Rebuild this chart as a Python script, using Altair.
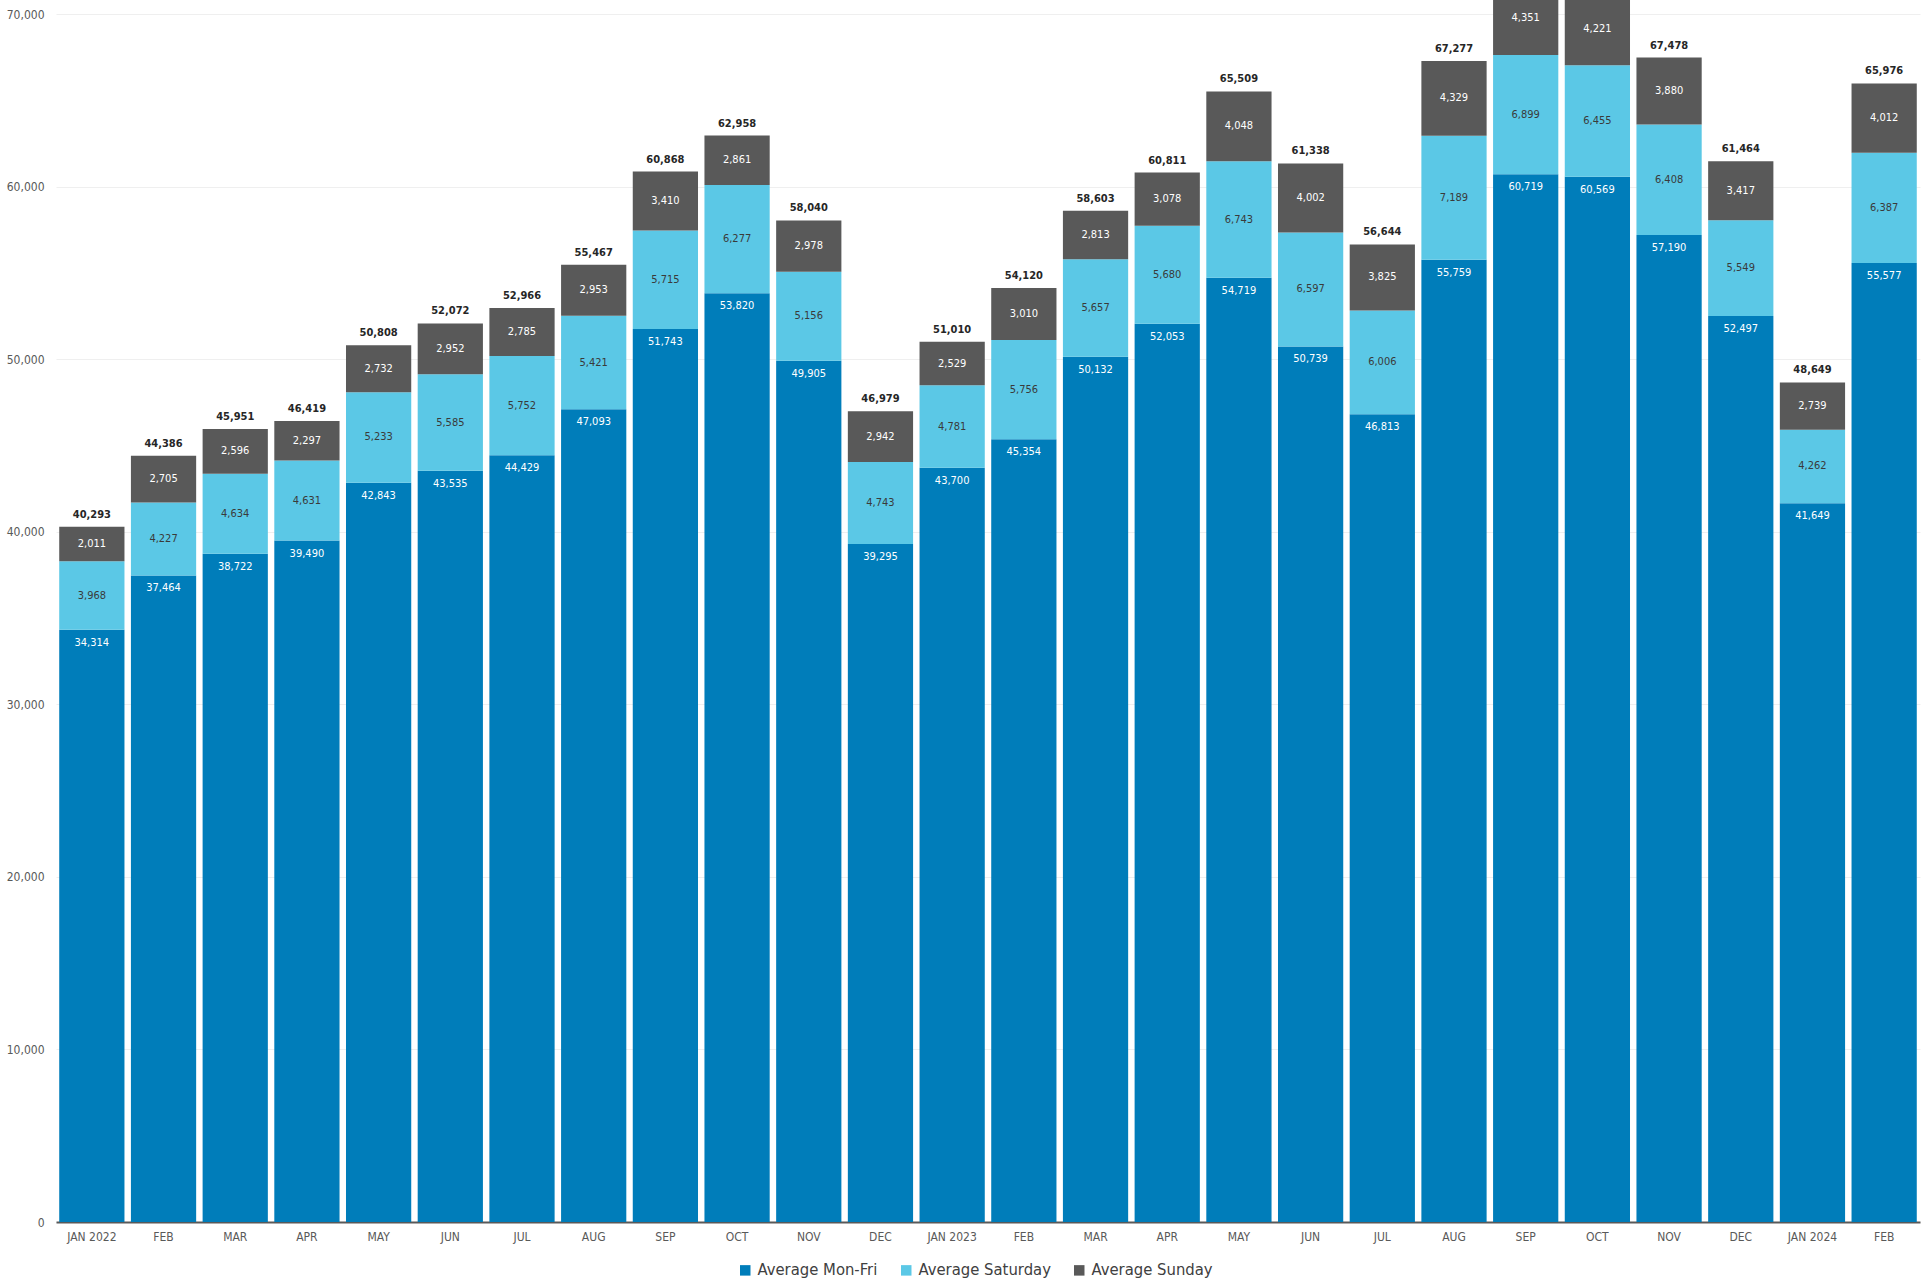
import altair as alt
import pandas as pd

months = ["JAN 2022", "FEB 2022", "MAR 2022", "APR 2022", "MAY 2022", "JUN 2022", "JUL 2022",
          "AUG 2022", "SEP 2022", "OCT 2022", "NOV 2022", "DEC 2022", "JAN 2023", "FEB 2023",
          "MAR 2023", "APR 2023", "MAY 2023", "JUN 2023", "JUL 2023", "AUG 2023", "SEP 2023",
          "OCT 2023", "NOV 2023", "DEC 2023", "JAN 2024", "FEB 2024"]
monfri = [34314, 37464, 38722, 39490, 42843, 43535, 44429, 47093, 51743, 53820, 49905, 39295, 43700,
          45354, 50132, 52053, 54719, 50739, 46813, 55759, 60719, 60569, 57190, 52497, 41649, 55577]
saturday = [3968, 4227, 4634, 4631, 5233, 5585, 5752, 5421, 5715, 6277, 5156, 4743, 4781,
            5756, 5657, 5680, 6743, 6597, 6006, 7189, 6899, 6455, 6408, 5549, 4262, 6387]
sunday = [2011, 2705, 2596, 2297, 2732, 2952, 2785, 2953, 3410, 2861, 2978, 2942, 2529,
          3010, 2813, 3078, 4048, 4002, 3825, 4329, 4351, 4221, 3880, 3417, 2739, 4012]
totals = [40293, 44386, 45951, 46419, 50808, 52072, 52966, 55467, 60868, 62958, 58040, 46979, 51010,
          54120, 58603, 60811, 65509, 61338, 56644, 67277, 71969, 71245, 67478, 61464, 48649, 65976]
series = ["Average Mon-Fri", "Average Saturday", "Average Sunday"]
colors = ["#007DBA", "#5BC8E6", "#595959"]

FONT = "Liberation Sans Narrow, Arial Narrow, DejaVu Sans Condensed, sans-serif"

rows = []
for i, m in enumerate(months):
    vals = [monfri[i], saturday[i], sunday[i]]
    base = 0
    for k, s in enumerate(series):
        rows.append({"month": m, "series": s, "order": k, "value": vals[k],
                     "lo": base, "hi": base + vals[k], "mid": base + vals[k] / 2})
        base += vals[k]
df = pd.DataFrame(rows)
tot_df = pd.DataFrame({"month": months, "total": totals,
                       "top": [a + b + c for a, b, c in zip(monfri, saturday, sunday)]})

x = alt.X("month:N", sort=months, title=None,
          scale=alt.Scale(paddingInner=0.09, paddingOuter=0.045),
          axis=alt.Axis(labelAngle=0, ticks=False, domain=True, domainColor="#595959",
                        domainWidth=2, labelColor="#595959", labelFontSize=12, labelFont=FONT,
                        labelPadding=9,
                        labelExpr="indexof(datum.label,'JAN')==0 ? datum.label : slice(datum.label,0,3)"))
yscale = alt.Scale(domain=[0, 70000], nice=False)

bars = alt.Chart(df).mark_bar(clip=False).encode(
    x=x,
    y=alt.Y("lo:Q", scale=yscale, title=None,
            axis=alt.Axis(values=list(range(0, 70001, 10000)), format=",d", domain=False,
                          ticks=False, gridColor="#efefef", labelColor="#595959",
                          labelFontSize=12, labelFont=FONT, labelPadding=12)),
    y2="hi:Q",
    color=alt.Color("series:N", sort=series,
                    scale=alt.Scale(domain=series, range=colors),
                    legend=alt.Legend(title=None, orient="none", direction="horizontal",
                                      legendX=681, legendY=1248, symbolType="square",
                                      symbolSize=110, symbolStrokeWidth=0, labelFontSize=16.5,
                                      labelFont=FONT, labelColor="#404040", columnPadding=20,
                                      labelOffset=4)),
)

mf_text = alt.Chart(df[df.order == 0]).mark_text(
    dy=13, fontSize=11, font=FONT, color="white", clip=False
).encode(x=alt.X("month:N", sort=months), y=alt.Y("hi:Q", scale=yscale),
         text=alt.Text("value:Q", format=",d"))

sat_text = alt.Chart(df[df.order == 1]).mark_text(
    fontSize=11, font=FONT, color="#3a3a3a", baseline="middle", clip=False
).encode(x=alt.X("month:N", sort=months), y=alt.Y("mid:Q", scale=yscale),
         text=alt.Text("value:Q", format=",d"))

sun_text = alt.Chart(df[df.order == 2]).mark_text(
    fontSize=11, font=FONT, color="white", baseline="middle", clip=False
).encode(x=alt.X("month:N", sort=months), y=alt.Y("mid:Q", scale=yscale),
         text=alt.Text("value:Q", format=",d"))

tot_text = alt.Chart(tot_df).mark_text(
    dy=-12, fontSize=11, font=FONT, fontWeight="bold", color="#262626", clip=False
).encode(x=alt.X("month:N", sort=months), y=alt.Y("top:Q", scale=yscale),
         text=alt.Text("total:Q", format=",d"))

chart = alt.layer(bars, mf_text, sat_text, sun_text, tot_text).properties(
    width=1864, height=1208,
    autosize=alt.AutoSizeParams(type="none"),
    padding={"left": 56, "top": 14, "right": 12, "bottom": 62},
    background="white",
).configure_view(stroke=None)

chart.save("out.html", embed_options={"renderer": "svg", "actions": False})
